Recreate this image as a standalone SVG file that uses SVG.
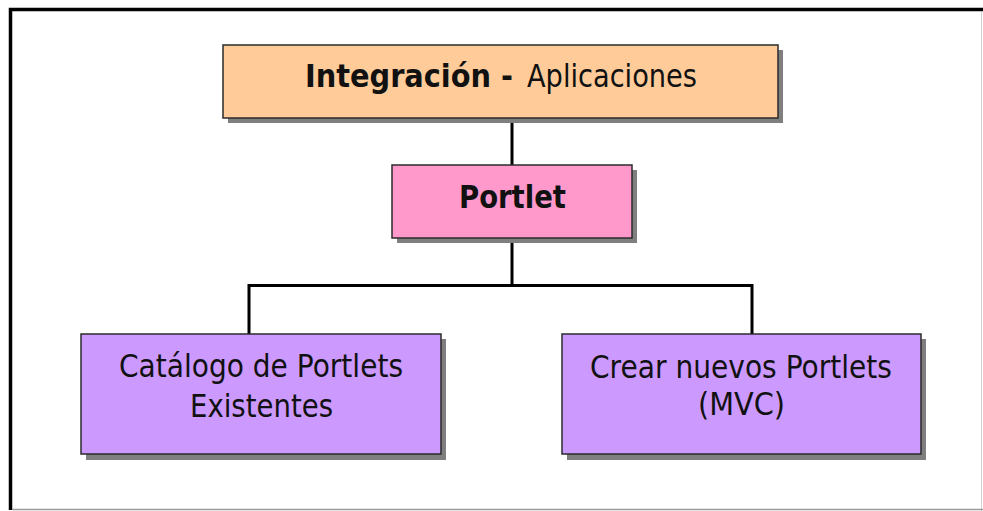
<svg xmlns="http://www.w3.org/2000/svg" width="983" height="511" viewBox="0 0 983 511">
<style>
.shadow{fill:#7f7f7f}
.box{stroke:#2b2b2b;stroke-width:1.5}
.t{font-family:"DejaVu Sans","Liberation Sans",sans-serif;font-size:32px;fill:#111}
.b{font-weight:bold}
.conn{stroke:#000;stroke-width:3;fill:none}
</style>
<rect x="0" y="0" width="983" height="511" fill="#fff"/>
<g id="frame">
<path d="M10.5 510 V9.5 H983" fill="none" stroke="#000" stroke-width="3.5"/>
<line x1="981.5" y1="12" x2="981.5" y2="511" stroke="#d0d0d0" stroke-width="1"/>
<line x1="12" y1="509.5" x2="983" y2="509.5" stroke="#9a9a9a" stroke-width="1.5"/>
</g>
<g id="connectors">
<line class="conn" x1="512" y1="118" x2="512" y2="165"/>
<line class="conn" x1="512" y1="238" x2="512" y2="286"/>
<path class="conn" d="M249 334 V285.5 H752 V334"/>
</g>
<g id="node-integracion">
<rect class="shadow" x="228" y="50" width="555" height="73"/>
<rect class="box" x="223" y="45" width="555" height="73" fill="#FFCC99"/>
<text class="t b" x="305" y="87" textLength="208" lengthAdjust="spacingAndGlyphs">Integración -</text>
<text class="t" x="527" y="87" textLength="170" lengthAdjust="spacingAndGlyphs">Aplicaciones</text>
</g>
<g id="node-portlet">
<rect class="shadow" x="397" y="170" width="240" height="73"/>
<rect class="box" x="392" y="165" width="240" height="73" fill="#FF99CC"/>
<text class="t b" x="512.5" y="208" text-anchor="middle" textLength="107" lengthAdjust="spacingAndGlyphs">Portlet</text>
</g>
<g id="node-catalogo">
<rect class="shadow" x="86" y="339" width="360" height="121"/>
<rect class="box" x="81" y="334" width="360" height="120" fill="#CC99FF"/>
<text class="t" x="261" y="377" text-anchor="middle" textLength="284" lengthAdjust="spacingAndGlyphs">Catálogo de Portlets</text>
<text class="t" x="261.5" y="417" text-anchor="middle" textLength="143" lengthAdjust="spacingAndGlyphs">Existentes</text>
</g>
<g id="node-crear">
<rect class="shadow" x="567" y="339" width="359" height="121"/>
<rect class="box" x="562" y="334" width="359" height="120" fill="#CC99FF"/>
<text class="t" x="741" y="378" text-anchor="middle" textLength="302" lengthAdjust="spacingAndGlyphs">Crear nuevos Portlets</text>
<text class="t" x="741.5" y="415" text-anchor="middle" textLength="87" lengthAdjust="spacingAndGlyphs">(MVC)</text>
</g>
</svg>
